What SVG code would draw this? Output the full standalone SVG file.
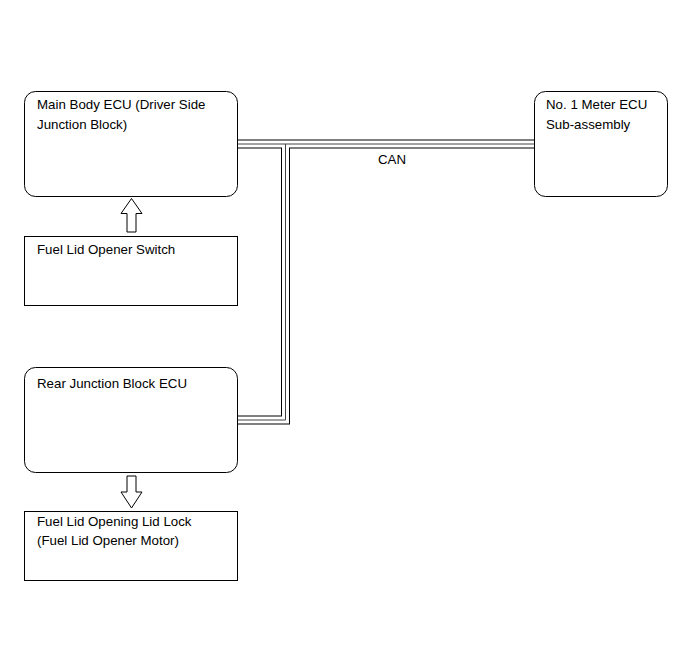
<svg xmlns="http://www.w3.org/2000/svg" width="691" height="660" viewBox="0 0 691 660">
<style>
.box{fill:#fff;stroke:#000;stroke-width:1}
.t{font-family:"Liberation Sans",Arial,sans-serif;font-size:13.3px;fill:#000}
.arr{fill:#fff;stroke:#000;stroke-width:1}
.cb{fill:none;stroke:#000;stroke-width:9}
.cw{fill:none;stroke:#fff;stroke-width:7}
.cc{fill:none;stroke:#444;stroke-width:1}
</style>
<rect width="691" height="660" fill="#fff"/>
<g id="connectors">
<path class="cb" d="M237,144H534"/>
<path class="cb" d="M237,420H285.5V144"/>
<path class="cw" d="M237,144H534"/>
<path class="cw" d="M237,420H285.5V144"/>
<path class="cc" d="M237,144H534"/>
<path class="cc" d="M237,420H285.5V144"/>
<text class="t" x="392" y="164" text-anchor="middle">CAN</text>
<path class="arr" d="M131.5,198.5L142,213.5H136V232H127V213.5H121Z"/>
<path class="arr" d="M131.5,508L142,492H136V476H127V492H121Z"/>
</g>
<g id="main-body-ecu">
<rect class="box" x="24.5" y="91.5" width="213" height="105" rx="11"/>
<text class="t" x="37" y="109">Main Body ECU (Driver Side</text>
<text class="t" x="37" y="129">Junction Block)</text>
</g>
<g id="meter-ecu">
<rect class="box" x="534.5" y="91.5" width="133" height="105" rx="11"/>
<text class="t" x="546" y="109">No. 1 Meter ECU</text>
<text class="t" x="546" y="129">Sub-assembly</text>
</g>
<g id="fuel-lid-opener-switch">
<rect class="box" x="24.5" y="236.5" width="213" height="69"/>
<text class="t" x="37" y="254">Fuel Lid Opener Switch</text>
</g>
<g id="rear-junction-block-ecu">
<rect class="box" x="24.5" y="367.5" width="213" height="105" rx="11"/>
<text class="t" x="37" y="388">Rear Junction Block ECU</text>
</g>
<g id="fuel-lid-lock">
<rect class="box" x="24.5" y="511.5" width="213" height="69"/>
<text class="t" x="37" y="526">Fuel Lid Opening Lid Lock</text>
<text class="t" x="37" y="545">(Fuel Lid Opener Motor)</text>
</g>
</svg>
